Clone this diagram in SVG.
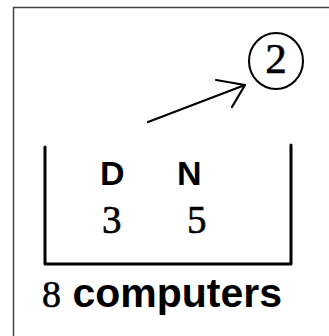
<svg xmlns="http://www.w3.org/2000/svg" width="329" height="336" viewBox="0 0 329 336">
<style>
.sans{font-family:"Liberation Sans",Arial,sans-serif;font-weight:bold;fill:#000}
.serif{font-family:"Liberation Serif","Times New Roman",serif;fill:#000;stroke:#000;stroke-width:0.6}
.ln{stroke:#000;fill:none;stroke-linecap:round;stroke-linejoin:round}
</style>
<rect x="0" y="0" width="329" height="336" fill="#fff"/>
<path d="M13.5,336 V7.5 H329" fill="none" stroke="#444" stroke-width="1.5"/>
<g id="bucket">
<path class="ln" d="M45,147 V264 H291 V145" stroke-width="3" stroke-linecap="butt" stroke-linejoin="miter"/>
<text class="sans" x="100" y="185" font-size="34">D</text>
<text class="sans" x="177" y="185" font-size="34">N</text>
<text class="serif" x="102" y="233" font-size="39">3</text>
<text class="serif" x="187" y="233" font-size="39">5</text>
</g>
<g id="label">
<text x="42" y="307"><tspan class="serif" font-size="38">8</tspan><tspan class="sans" font-size="41"> computers</tspan></text>
</g>
<g id="node2">
<ellipse cx="276" cy="61" rx="27" ry="28" fill="none" stroke="#000" stroke-width="2"/>
<text class="serif" x="276" y="73" font-size="43" text-anchor="middle">2</text>
</g>
<g id="connectors">
<path class="ln" d="M148,122 L245,85 M216,80 L245,85 L232,107" stroke-width="2.2"/>
</g>
</svg>
